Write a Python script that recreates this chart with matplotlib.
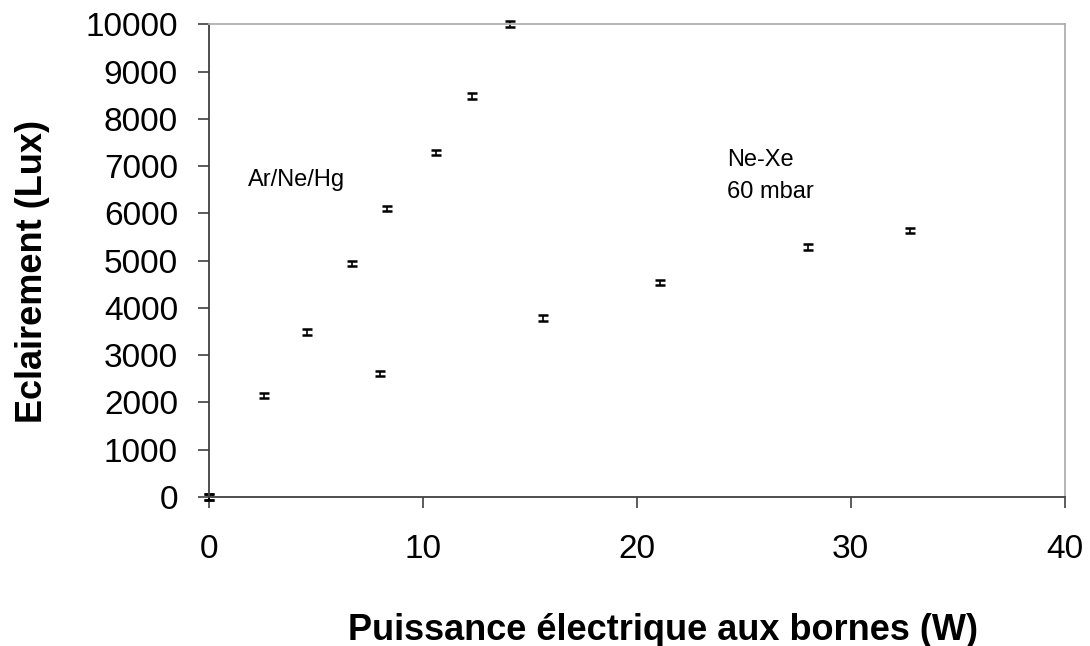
import matplotlib
matplotlib.use('Agg')
import matplotlib.pyplot as plt

# Ar/Ne/Hg series
p_arnehg = [0.0, 2.58, 4.61, 6.68, 8.35, 10.65, 12.32, 14.1]
e_arnehg = [0, 2150, 3495, 4940, 6100, 7290, 8480, 10000]

# Ne-Xe 60 mbar series
p_nexe = [0.0, 7.99, 15.64, 21.07, 28.02, 32.76]
e_nexe = [0, 2615, 3790, 4540, 5290, 5640]

err = 60  # lux

x_ticks = [0, 10, 20, 30, 40]
y_ticks = list(range(0, 10001, 1000))

plt.rcParams['font.family'] = ['Liberation Sans', 'DejaVu Sans']

fig = plt.figure(figsize=(10.9, 6.46), dpi=100)
ax = fig.add_axes([0.1913, 0.2307, 0.7855, 0.7317])

for x, y in [(p_arnehg, e_arnehg), (p_nexe, e_nexe)]:
    eb = ax.errorbar(x, y, yerr=err, fmt='none', ecolor='black',
                     elinewidth=1.2, capsize=3.3, capthick=1.8)
    for art in eb.lines[1] + eb.lines[2]:
        art.set_clip_on(False)

ax.set_xlim(0, 40)
ax.set_ylim(0, 10000)
ax.set_xticks(x_ticks)
ax.set_yticks(y_ticks)

ax.spines['left'].set_color('#404040')
ax.spines['bottom'].set_color('#404040')
ax.spines['top'].set_color('#b0b0b0')
ax.spines['right'].set_color('#b0b0b0')
for s in ax.spines.values():
    s.set_linewidth(1.3)

ax.tick_params(axis='both', direction='out', length=8, width=1.2,
               colors='#404040', labelcolor='black', labelsize=24)
ax.tick_params(axis='x', pad=19)
ax.tick_params(axis='y', pad=14)

ax.set_xlabel('Puissance électrique aux bornes (W)', fontsize=26,
              fontweight='bold', va='baseline')
ax.xaxis.set_label_coords(0.5 + (662 - 636) / 856.0, -0.302)
ax.set_ylabel('Eclairement (Lux)', fontsize=26, fontweight='bold',
              va='center')
ax.yaxis.set_label_coords(-0.206, 0.476)

ax.text(1.82, 6700, 'Ar/Ne/Hg', fontsize=17, va='center', ha='left')
ax.text(24.23, 6790, 'Ne-Xe\n60 mbar', fontsize=17, va='center', ha='left',
        linespacing=1.6)

fig.savefig('out.png', dpi=100)
